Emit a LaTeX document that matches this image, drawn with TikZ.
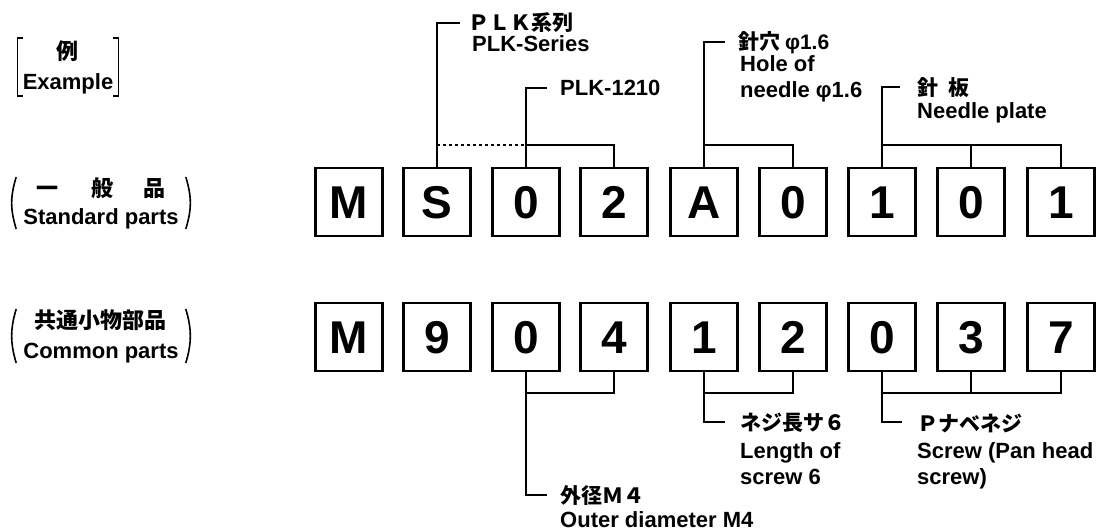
\documentclass[tikz,border=0pt]{standalone}
\usepackage{fontspec}
\setmainfont{Liberation Sans}
\newfontfamily\jp{Noto Sans CJK JP}
\usetikzlibrary{positioning}
\tikzset{
  digit/.style={draw, line width=2.2pt, minimum width=67pt, minimum height=68pt,
    inner sep=0pt, text height=33pt, text depth=0pt,
    font=\fontsize{46}{46}\selectfont\bfseries},
  lead/.style={line width=1.8pt},
  lbl/.style={inner sep=0pt, align=left, font=\fontsize{22}{26}\selectfont\bfseries},
  jlbl/.style={inner sep=0pt, anchor=west, font=\fontsize{21}{26}\selectfont\jp\bfseries},
  brk/.style={line width=1.6pt},
}

\begin{document}
\begin{tikzpicture}[x=1pt,y=-1pt]
\useasboundingbox (0,0) rectangle (1116,530);

% row labels
\node[lbl, align=center, inner xsep=5pt, inner ysep=2pt] (exlbl) at (68,67) {{\jp 例}\\[4pt]Example};
\node[lbl, align=center] (stdlbl) at (101,203) {{\jp 一\hspace{34pt}般\hspace{30pt}品}\\[2pt]Standard parts};
\node[lbl, align=center] (comlbl) at (101,336) {{\jp 共通小物部品}\\[4pt]Common parts};
\draw[brk] ([xshift=5]exlbl.north west) -- (exlbl.north west) -- (exlbl.south west) -- ++(5,0);
\draw[brk] ([xshift=-5]exlbl.north east) -- (exlbl.north east) -- (exlbl.south east) -- ++(-5,0);
\draw[brk] ([xshift=-7]stdlbl.north west) .. controls +(-6,20) and +(-6,-20) .. ([xshift=-7]stdlbl.south west);
\draw[brk] ([xshift=7]stdlbl.north east) .. controls +(6,20) and +(6,-20) .. ([xshift=7]stdlbl.south east);
\draw[brk] ([xshift=-7]comlbl.north west) .. controls +(-6,20) and +(-6,-20) .. ([xshift=-7]comlbl.south west);
\draw[brk] ([xshift=7]comlbl.north east) .. controls +(6,20) and +(6,-20) .. ([xshift=7]comlbl.south east);

% standard parts
\node[digit] (S1) at (349,202) {M};
\node[digit] (S2) at (437,202) {S};
\node[digit] (S3) at (526,202) {0};
\node[digit] (S4) at (614,202) {2};
\node[digit] (S5) at (704,202) {A};
\node[digit] (S6) at (793,202) {0};
\node[digit] (S7) at (882,202) {1};
\node[digit] (S8) at (971,202) {0};
\node[digit] (S9) at (1061,202) {1};

% common parts
\node[digit] (C1) at (349,337) {M};
\node[digit] (C2) at (437,337) {9};
\node[digit] (C3) at (526,337) {0};
\node[digit] (C4) at (614,337) {4};
\node[digit] (C5) at (704,337) {1};
\node[digit] (C6) at (793,337) {2};
\node[digit] (C7) at (882,337) {0};
\node[digit] (C8) at (971,337) {3};
\node[digit] (C9) at (1061,337) {7};

\coordinate (topbar) at (0,145);
\coordinate (botbar) at (0,393);

% PLK series
\coordinate (plkC) at (460,23);
\node[jlbl] (plkJ) at (468,23) {ＰＬＫ系列};
\node[lbl, anchor=north west] (plkE) at (472,35) {PLK-Series};
\draw[lead] (S2.north) |- (plkC);
\draw[lead, dash pattern=on 3pt off 3pt] (S2.north |- topbar) -- (S3.north |- topbar);

% PLK-1210
\coordinate (modC) at (547,88);
\node[lbl, anchor=west] (modE) at (560,88) {PLK-1210};
\draw[lead] (S3.north) |- (modC);
\draw[lead] (S4.north) |- (S3.north |- topbar);

% needle hole
\coordinate (holeC) at (725,42);
\node[jlbl] (holeJ) at (738,43) {針穴 {\rmfamily φ1.6}};
\node[lbl, anchor=north west] (holeE) at (740,55) {Hole of\\needle φ1.6};
\draw[lead] (S5.north) |- (holeC);
\draw[lead] (S6.north) |- (S5.north |- topbar);

% needle plate
\coordinate (plateC) at (900,87);
\node[jlbl] (plateJ) at (917,88) {針\hspace{10pt}板};
\node[lbl, anchor=north west] (plateE) at (917,102) {Needle plate};
\draw[lead] (S7.north) |- (plateC);
\draw[lead] (S9.north) |- (S7.north |- topbar);
\draw[lead] (S8.north) -- (S8.north |- topbar);

% outer diameter
\coordinate (diaC) at (547,495);
\node[jlbl] (diaJ) at (560,496) {外径Ｍ４};
\node[lbl, anchor=north west] (diaE) at (560,511) {Outer diameter M4};
\draw[lead] (C3.south) |- (diaC);
\draw[lead] (C4.south) |- (C3.south |- botbar);

% screw length
\coordinate (lenC) at (725,422);
\node[jlbl] (lenJ) at (740,423) {ネジ長サ６};
\node[lbl, anchor=north west] (lenE) at (740,442) {Length of\\screw 6};
\draw[lead] (C5.south) |- (lenC);
\draw[lead] (C6.south) |- (C5.south |- botbar);

% screw type
\coordinate (panC) at (902,422);
\node[jlbl] (panJ) at (917,423) {Ｐナベネジ};
\node[lbl, anchor=north west] (panE) at (917,442) {Screw (Pan head\\screw)};
\draw[lead] (C7.south) |- (panC);
\draw[lead] (C9.south) |- (C7.south |- botbar);
\draw[lead] (C8.south) -- (C8.south |- botbar);
\end{tikzpicture}
\end{document}
